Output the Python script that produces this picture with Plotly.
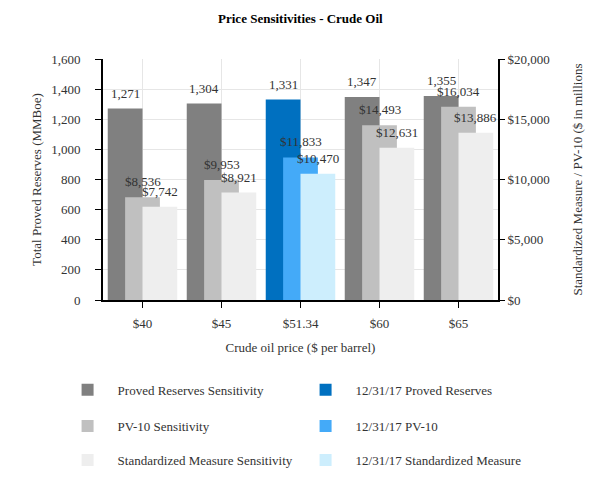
import plotly.graph_objects as go

categories = ["$40", "$45", "$51.34", "$60", "$65"]
proved_reserves = [1271, 1304, 1331, 1347, 1355]          # MMBoe
pv10 = [8536, 9953, 11833, 14493, 16034]                 # $ millions
std_measure = [7742, 8921, 10470, 12631, 13886]          # $ millions
current_idx = 2  # 12/31/17 price case

FONT = "Liberation Serif, Times New Roman, serif"
TXT = "#333333"

def split(vals):
    sens = [v if i != current_idx else None for i, v in enumerate(vals)]
    cur = [v if i == current_idx else None for i, v in enumerate(vals)]
    return sens, cur

W = 0.44
series = [
    ("Proved Reserves Sensitivity", "12/31/17 Proved Reserves", proved_reserves,
     "#808080", "#0070c0", -0.44, "y", "legend", "{:,}"),
    ("PV-10 Sensitivity", "12/31/17 PV-10", pv10,
     "#c0c0c0", "#44aaf8", -0.22, "y2", "legend2", "${:,}"),
    ("Standardized Measure Sensitivity", "12/31/17 Standardized Measure", std_measure,
     "#eeeeee", "#cdeefd", 0.0, "y2", "legend3", "${:,}"),
]

fig = go.Figure()
annotations = []
for ns, nc, vals, cs, cc, off, ax, lg, fmt in series:
    sens, cur = split(vals)
    fig.add_trace(go.Bar(x=categories, y=sens, name=ns, marker_color=cs,
                         marker_line_width=0, width=W, offset=off,
                         yaxis=ax, legend=lg))
    fig.add_trace(go.Bar(x=categories, y=cur, name=nc, marker_color=cc,
                         marker_line_width=0, width=W, offset=off,
                         yaxis=ax, legend=lg))
    for i, v in enumerate(vals):
        annotations.append(dict(
            x=i + off + W / 2, y=v, xref="x", yref=ax,
            text=fmt.format(v), showarrow=False, yanchor="bottom",
            yshift=6, font=dict(family=FONT, size=13, color=TXT)))

legend_common = dict(orientation="h", xanchor="left", yanchor="middle",
                     x=-0.115, itemwidth=50, entrywidth=173,
                     font=dict(family=FONT, size=13, color=TXT),
                     bgcolor="rgba(0,0,0,0)", traceorder="normal")

fig.update_layout(
    width=613, height=496,
    margin=dict(l=103, r=115, t=59, b=196),
    paper_bgcolor="white", plot_bgcolor="white",
    barmode="overlay",
    font=dict(family=FONT, size=13, color=TXT),
    title=dict(text="<b>Price Sensitivities - Crude Oil</b>", x=0.49, xanchor="center",
               y=0.963, yanchor="middle", font=dict(family=FONT, size=13, color="#000")),
    xaxis=dict(type="category", range=[-0.5, 4.5], showgrid=True, gridcolor="#e6e6e6",
               showline=True, linecolor="#000", linewidth=2,
               ticks="outside", ticklen=6, tickcolor="#000",
               ticklabelstandoff=4,
               title=dict(text="Crude oil price ($ per barrel)", standoff=13,
                          font=dict(family=FONT, size=13, color=TXT))),
    yaxis=dict(range=[0, 1600], dtick=200, tickformat=",", showgrid=True,
               gridcolor="#e6e6e6", showline=True, linecolor="#000", linewidth=2,
               ticks="outside", ticklen=6, tickcolor="#000", zeroline=False,
               ticklabelstandoff=12,
               title=dict(text="Total Proved Reserves (MMBoe)", standoff=7,
                          font=dict(family=FONT, size=13, color=TXT))),
    yaxis2=dict(range=[0, 20000], dtick=5000, tickformat=",", tickprefix="$",
                overlaying="y", side="right", showgrid=False, showline=True,
                linecolor="#000", linewidth=2, ticks="outside", ticklen=5,
                tickcolor="#000", zeroline=False,
                title=dict(text="Standardized Measure / PV-10 ($ in millions", standoff=24,
                           font=dict(family=FONT, size=13, color=TXT))),
    legend=dict(y=-0.373, **legend_common),
    legend2=dict(y=-0.523, **legend_common),
    legend3=dict(y=-0.664, **legend_common),
    annotations=annotations,
)

fig.write_html("out.html")
